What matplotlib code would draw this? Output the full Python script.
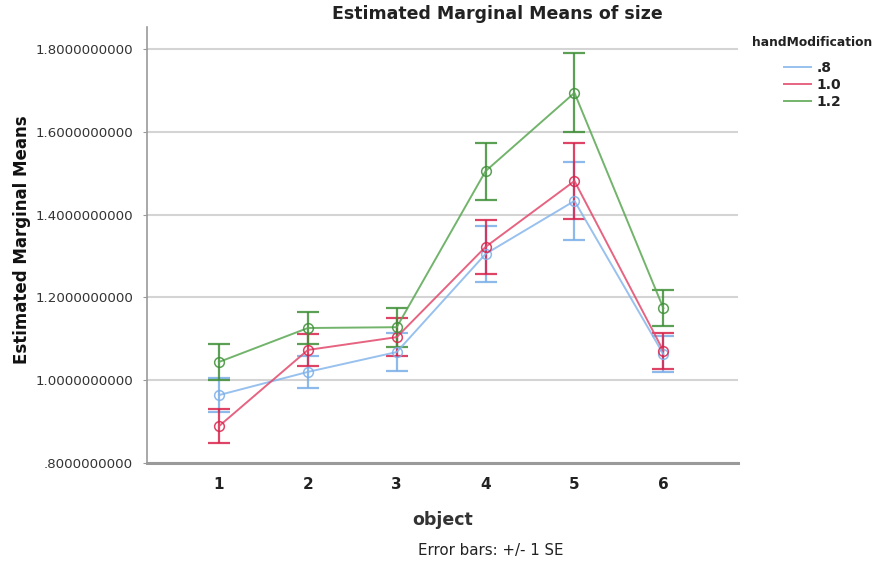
import matplotlib
matplotlib.use("Agg")
import matplotlib.pyplot as plt
from matplotlib.ticker import FuncFormatter

plt.rcParams['font.family'] = ['DejaVu Sans']

objects = [1, 2, 3, 4, 5, 6]
levels = [".8", "1.0", "1.2"]

means_08 = [0.964, 1.020, 1.068, 1.305, 1.433, 1.063]
se_08 = [0.041, 0.039, 0.047, 0.068, 0.095, 0.043]

means_10 = [0.889, 1.073, 1.104, 1.322, 1.481, 1.071]
se_10 = [0.041, 0.039, 0.045, 0.065, 0.092, 0.043]

means_12 = [1.044, 1.126, 1.128, 1.505, 1.694, 1.174]
se_12 = [0.043, 0.039, 0.047, 0.069, 0.095, 0.043]

y_ticks = [0.8, 1.0, 1.2, 1.4, 1.6, 1.8]

line_colors = ["#86b6ec", "#e2496b", "#5aa752"]
bar_colors = ["#7aaee8", "#d8234b", "#3f8f38"]

W, H = 880, 566
fig = plt.figure(figsize=(W / 100, H / 100), dpi=100)
ax = fig.add_axes([147 / W, 1 - 463 / H, (738 - 147) / W, (463 - 27) / H])

series = [(means_08, se_08), (means_10, se_10), (means_12, se_12)]
handles = []
for (m, s), lc, bc, lab in zip(series, line_colors, bar_colors, levels):
    ax.errorbar(objects, m, yerr=s, fmt="none", ecolor=bc, elinewidth=1.6,
                capsize=8, capthick=1.6, alpha=0.85, zorder=3)
    ln, = ax.plot(objects, m, color=lc, lw=1.4, marker="o", markersize=7,
                  markerfacecolor="none", markeredgecolor=bc, markeredgewidth=1.1,
                  alpha=0.85, zorder=4, label=lab)
    handles.append(ln)

ax.set_xlim(0.19, 6.84)
ax.set_ylim(0.8, 1.853)
ax.set_xticks(objects)
ax.set_yticks(y_ticks)


def fmt(v, pos):
    s = f"{v:.10f}"
    return s[1:] if s.startswith("0") else s


ax.yaxis.set_major_formatter(FuncFormatter(fmt))
ax.grid(axis="y", color="#d4d4d4", lw=1.5, zorder=0)
ax.set_axisbelow(True)
for side in ("top", "right"):
    ax.spines[side].set_visible(False)
ax.spines["left"].set_color("#9a9a9a")
ax.spines["left"].set_linewidth(1.2)
ax.spines["bottom"].set_color("#9a9a9a")
ax.spines["bottom"].set_linewidth(2.2)
ax.tick_params(axis="y", length=3, color="#9a9a9a", labelsize=9.6,
               labelcolor="#333333", pad=7)
ax.tick_params(axis="x", length=0, labelsize=11, labelcolor="#222222", pad=10)
for t in ax.get_xticklabels():
    t.set_fontweight("bold")

ax.set_xlabel("object", fontsize=12.5, fontweight="bold", color="#333333", labelpad=14)
fig.text(22 / W, 1 - 240 / H, "Estimated Marginal Means", rotation=90,
         ha="center", va="center", fontsize=12, fontweight="bold", color="#111111")

fig.text(497 / W, 1 - 14 / H, "Estimated Marginal Means of size",
         ha="center", va="center", fontsize=12.5, fontweight="bold", color="#222222")
fig.text(491 / W, 1 - 551 / H, "Error bars: +/- 1 SE",
         ha="center", va="center", fontsize=10.8, color="#222222")

# legend: title placed on its own, entries indented beneath it
fig.text(752 / W, 1 - 42 / H, "handModification", ha="left", va="center",
         fontsize=8.8, fontweight="bold", color="#222222")
leg = fig.legend(handles, levels, loc="upper left",
                 bbox_to_anchor=(778 / W, 1 - 55 / H), frameon=False,
                 fontsize=10, handlelength=2.0, handletextpad=0.4,
                 labelspacing=0.22, borderaxespad=0)
for h in leg.legend_handles:
    h.set_marker("")
for t in leg.get_texts():
    t.set_fontweight("bold")
    t.set_color("#222222")

fig.savefig("out.png", dpi=100)
